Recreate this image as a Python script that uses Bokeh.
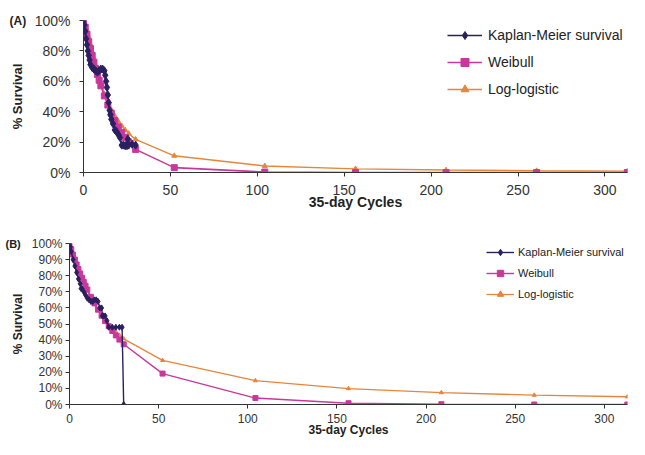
from bokeh.plotting import figure
from bokeh.layouts import column
from bokeh.models import Range1d, FixedTicker
from bokeh.embed import file_html
from bokeh.resources import INLINE

# ---------------- data ----------------
x_ticks = [0, 50, 100, 150, 200, 250, 300]
y_ticks_a = [0, 20, 40, 60, 80, 100]
y_ticks_b = [0, 10, 20, 30, 40, 50, 60, 70, 80, 90, 100]

series_names = ["Kaplan-Meier survival", "Weibull", "Log-logistic"]

# Panel A
km_a_x = [0, 0.5, 1, 1.5, 2, 2.5, 3, 3.5, 4, 5, 6, 7, 8, 9, 10, 11, 12, 12.5, 13, 13.5,
          14, 14.5, 15, 15.5, 16, 17, 18, 19, 20, 21, 22, 23, 24, 25, 25.5, 26, 28, 30]
km_a_y = [100, 97, 93, 88, 84, 80, 77, 74, 71, 69, 68, 67, 66, 67, 68, 68, 67, 64, 60, 56,
          51, 46, 41, 38, 35, 32, 28, 27, 25, 23, 18, 18, 17.6, 17.6, 22, 18, 18.6, 18]

fit_a_x = [0, 1, 2, 3, 4, 5, 6, 7, 8, 9, 10, 12, 14, 16, 18, 20, 22, 24, 26, 30,
           52.2, 104.3, 156.5, 208.6, 260.7, 312.9]
wb_a_y = [100, 95.6, 90.9, 86.1, 81.5, 77.0, 72.6, 68.4, 64.5, 60.7, 57.0, 50.4, 44.4, 39.0,
          34.2, 30.0, 26.3, 23.0, 20.1, 15.2, 3.2, 0.3, 0, 0, 0, 0]
ll_a_y = [100, 97.6, 93.7, 89.2, 84.4, 79.5, 74.9, 70.4, 66.1, 62.1, 58.4, 51.8, 46.1, 41.3,
          37.2, 33.6, 30.6, 27.9, 25.6, 21.8, 11.0, 4.3, 2.4, 1.6, 1.15, 0.9]

# Panel B
km_b_x = [0, 0.5, 1, 2, 3, 4, 5, 6, 6.5, 7, 8, 9, 10, 11, 12, 13, 14, 15, 16, 17, 18, 18.5,
          19, 20, 21, 22, 24, 26, 28, 29.5, 30.4]
km_b_y = [100, 98, 95, 90, 86, 82, 78, 75, 72, 72, 70, 68, 66, 65, 64, 64, 65, 65, 64, 60, 60,
          55, 55, 55, 52, 48, 48, 48, 48, 48, 0]

fit_b_x = [0, 1, 2, 3, 4, 5, 6, 7, 8, 9, 10, 12, 14, 16, 18, 20, 22, 24, 26, 28, 30.4,
           52.2, 104.3, 156.5, 208.6, 260.7, 312.9]
wb_b_y = [100, 96.4, 93.1, 90.0, 87.0, 84.1, 81.4, 78.7, 76.2, 73.8, 71.4, 66.9, 62.8, 58.9,
          55.2, 51.8, 48.6, 45.7, 42.9, 40.3, 37.4, 19.2, 4.0, 0.8, 0.2, 0, 0]
ll_b_y = [100, 96.9, 93.6, 90.2, 87.0, 83.9, 80.9, 78.1, 75.5, 72.9, 70.5, 66.1, 62.2, 58.6,
          55.3, 52.4, 49.7, 47.3, 45.1, 43.0, 40.8, 27.4, 14.8, 9.9, 7.4, 5.8, 4.8]

# ---------------- style ----------------
KM_COL = "#2A2060"
WB_COL = "#C8389C"
LL_COL = "#E8853A"
FONT = "Liberation Sans"
AX_COL = "#333333"
TXT_COL = "#222222"


def make_panel(height, width, border, y_ticks, fs, x_std, y_std, ylab_std, xlab_std,
               panel_tag, tag_fs, tag_offset, tag_standoff):
    tick_fs, title_fs, ylab_fs, x_tick_fs = fs
    p = figure(width=width, height=height, output_backend="svg", toolbar_location=None,
               x_range=Range1d(0, 313), y_range=Range1d(0, 100),
               min_border_left=border[0], min_border_right=border[1],
               min_border_top=border[2], min_border_bottom=border[3],
               frame_align=False)
    p.outline_line_color = None
    p.grid.visible = False
    p.background_fill_color = "white"

    p.title.text = panel_tag
    p.title.align = "left"
    p.title.offset = tag_offset
    p.title.standoff = tag_standoff
    p.title.text_font = FONT
    p.title.text_font_size = tag_fs
    p.title.text_font_style = "bold"
    p.title.text_color = TXT_COL

    xa = p.xaxis[0]
    xa.ticker = FixedTicker(ticks=x_ticks)
    xa.axis_label = "35-day Cycles"
    xa.axis_label_text_font = FONT
    xa.axis_label_text_font_style = "bold"
    xa.axis_label_text_font_size = title_fs
    xa.axis_label_text_color = TXT_COL
    xa.axis_label_standoff = xlab_std
    xa.major_label_text_font = FONT
    xa.major_label_text_font_size = x_tick_fs
    xa.major_label_text_color = AX_COL
    xa.major_label_standoff = x_std
    xa.major_tick_in = 0
    xa.major_tick_out = 4
    xa.minor_tick_out = 0
    xa.minor_tick_in = 0
    xa.axis_line_color = AX_COL
    xa.major_tick_line_color = AX_COL

    ya = p.yaxis[0]
    ya.ticker = FixedTicker(ticks=y_ticks)
    ya.major_label_overrides = {v: f"{v}%" for v in y_ticks}
    ya.axis_label = "% Survival"
    ya.axis_label_text_font = FONT
    ya.axis_label_text_font_style = "bold"
    ya.axis_label_text_font_size = ylab_fs
    ya.axis_label_text_color = TXT_COL
    ya.axis_label_standoff = ylab_std
    ya.major_label_text_font = FONT
    ya.major_label_text_font_size = tick_fs
    ya.major_label_text_color = AX_COL
    ya.major_label_standoff = y_std
    ya.major_tick_in = 0
    ya.major_tick_out = 4
    ya.minor_tick_out = 0
    ya.minor_tick_in = 0
    ya.axis_line_color = AX_COL
    ya.major_tick_line_color = AX_COL
    return p


def style_legend(p, loc, spacing, gw, gh, standoff, fs):
    items = p.legend[0].items
    p.legend[0].items = [items[2], items[1], items[0]]
    lg = p.legend[0]
    lg.location = loc
    lg.padding = 0
    lg.margin = 0
    lg.spacing = spacing
    lg.glyph_width = gw
    lg.glyph_height = gh
    lg.label_height = gh
    lg.label_standoff = standoff
    lg.label_text_font = FONT
    lg.label_text_font_size = fs
    lg.label_text_color = TXT_COL
    lg.border_line_alpha = 0
    lg.background_fill_alpha = 0


# ---------------- panel A ----------------
pa = make_panel(214, 629, (83, 2, 20, 42), y_ticks_a, ("14px", "14px", "13px", "14px"),
                8, 9, 7, -4, "(A)", "12px", -74, -14)
pa.line(fit_a_x, ll_a_y, color=LL_COL, line_width=1.4, legend_label=series_names[2])
pa.scatter(fit_a_x, ll_a_y, marker="triangle", size=5, color=LL_COL, legend_label=series_names[2])
pa.line(fit_a_x, wb_a_y, color=WB_COL, line_width=1.6, legend_label=series_names[1])
pa.scatter(fit_a_x, wb_a_y, marker="square", size=6, color=WB_COL, legend_label=series_names[1])
pa.line(km_a_x, km_a_y, color=KM_COL, line_width=1.6, legend_label=series_names[0])
pa.scatter(km_a_x, km_a_y, marker="diamond", size=8, color=KM_COL, legend_label=series_names[0])
style_legend(pa, (364, 73), 7, 35, 20, 6, "14px")

# ---------------- panel B ----------------
pb = make_panel(225, 629, (69, 2, 29, 34), y_ticks_b, ("12px", "12px", "12px", "12px"),
                5, 3, 4, -3, "(B)", "11px", -64, -12)
pb.line(fit_b_x, ll_b_y, color=LL_COL, line_width=1.3, legend_label=series_names[2])
pb.scatter(fit_b_x, ll_b_y, marker="triangle", size=4, color=LL_COL, legend_label=series_names[2])
pb.line(fit_b_x, wb_b_y, color=WB_COL, line_width=1.4, legend_label=series_names[1])
pb.scatter(fit_b_x, wb_b_y, marker="square", size=5, color=WB_COL, legend_label=series_names[1])
pb.line(km_b_x, km_b_y, color=KM_COL, line_width=1.4, legend_label=series_names[0])
pb.scatter(km_b_x, km_b_y, marker="diamond", size=6, color=KM_COL, legend_label=series_names[0])
style_legend(pb, (417, 102), 5, 28, 16, 4, "11px")

layout = column(pa, pb, spacing=0)
open("out.html", "w").write(file_html(layout, INLINE))
